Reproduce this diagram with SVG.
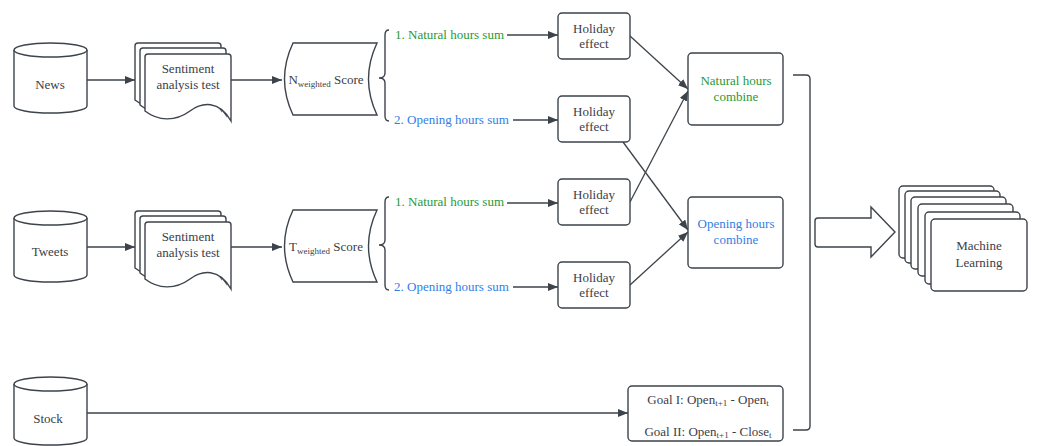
<svg xmlns="http://www.w3.org/2000/svg" width="1037" height="446" viewBox="0 0 1037 446">
<style>
.s{fill:#fff;stroke:#3d434b;stroke-width:1.4}
.n{fill:none;stroke:#3d434b;stroke-width:1.4}
.l{fill:none;stroke:#3d434b;stroke-width:1.3}
.t{font-family:"Liberation Serif","Times New Roman",serif;font-size:13px;fill:#3b4048;text-anchor:middle}
.g{fill:#1f9a35}
.b{fill:#2f80e6}
.st{text-anchor:start}
</style>
<defs>
<marker id="ah" viewBox="0 0 10 8" refX="10" refY="4" markerWidth="10" markerHeight="8" markerUnits="userSpaceOnUse" orient="auto">
<path d="M0,0 L10,4 L0,8 Z" fill="#3d434b"/>
</marker>
<path id="doc" d="M0,3 Q0,0 3,0 L83,0 Q86,0 86,3 L86,67 C74,46 57,48 45,57 C30,68 13,67 0,57 Z"/>
<path id="score" d="M293,0 L377,0 Q360,36 377,72 L293,72 Q276,36 293,0 Z"/>
</defs>

<g id="connectors">
<line class="l" x1="87" y1="80" x2="135" y2="80" marker-end="url(#ah)"/>
<line class="l" x1="231" y1="80" x2="282" y2="80" marker-end="url(#ah)"/>
<line class="l" x1="87" y1="247" x2="135" y2="247" marker-end="url(#ah)"/>
<line class="l" x1="231" y1="247" x2="282" y2="247" marker-end="url(#ah)"/>
<line class="l" x1="507" y1="35" x2="558" y2="35" marker-end="url(#ah)"/>
<line class="l" x1="513" y1="120" x2="558" y2="120" marker-end="url(#ah)"/>
<line class="l" x1="507" y1="203" x2="558" y2="203" marker-end="url(#ah)"/>
<line class="l" x1="513" y1="287" x2="558" y2="287" marker-end="url(#ah)"/>
<line class="l" x1="630" y1="36" x2="688" y2="89" marker-end="url(#ah)"/>
<line class="l" x1="630" y1="202" x2="688" y2="91" marker-end="url(#ah)"/>
<line class="l" x1="623" y1="142" x2="688" y2="230" marker-end="url(#ah)"/>
<line class="l" x1="630" y1="285" x2="688" y2="232" marker-end="url(#ah)"/>
<line class="l" x1="87" y1="413" x2="628" y2="413" marker-end="url(#ah)"/>
<path class="n" d="M793,75 L806,75 Q810,75 810,79 L810,426 Q810,430 806,430 L793,430"/>
</g>

<g id="news">
<path class="s" d="M14,50 L14,106 A36.5,7 0 0 0 87,106 L87,50"/>
<ellipse class="s" cx="50.5" cy="50" rx="36.5" ry="7"/>
<text class="t" x="50" y="89">News</text>
</g>

<g id="news-sentiment">
<use href="#doc" class="s" transform="translate(135,43)"/>
<use href="#doc" class="s" transform="translate(140,48)"/>
<use href="#doc" class="s" transform="translate(145,54)"/>
<text class="t" x="188" y="73">Sentiment</text>
<text class="t" x="188" y="89">analysis test</text>
</g>

<g id="news-score">
<use href="#score" class="s" transform="translate(0,43)"/>
<text class="t" x="326" y="84">N<tspan font-size="9" dy="3">weighted</tspan><tspan dy="-3"> Score</tspan></text>
</g>

<g id="news-brace">
<path class="n" d="M389,30 Q385,30 385,35 L385,73 Q385,78 379,78 Q385,78 385,83 L385,116 Q385,121 389,121"/>
<text class="t g st" x="395" y="39">1. Natural hours sum</text>
<text class="t b st" x="394" y="124">2. Opening hours sum</text>
</g>

<g id="tweets">
<path class="s" d="M14,218 L14,275 A36.5,7 0 0 0 87,275 L87,218"/>
<ellipse class="s" cx="50.5" cy="218" rx="36.5" ry="7"/>
<text class="t" x="50" y="256">Tweets</text>
</g>

<g id="tweets-sentiment">
<use href="#doc" class="s" transform="translate(135,211)"/>
<use href="#doc" class="s" transform="translate(140,216)"/>
<use href="#doc" class="s" transform="translate(145,222)"/>
<text class="t" x="188" y="241">Sentiment</text>
<text class="t" x="188" y="257">analysis test</text>
</g>

<g id="tweets-score">
<use href="#score" class="s" transform="translate(0,210)"/>
<text class="t" x="326" y="251">T<tspan font-size="9" dy="3">weighted</tspan><tspan dy="-3"> Score</tspan></text>
</g>

<g id="tweets-brace">
<path class="n" d="M389,197 Q385,197 385,202 L385,240 Q385,245 379,245 Q385,245 385,250 L385,285 Q385,290 389,290"/>
<text class="t g st" x="395" y="206">1. Natural hours sum</text>
<text class="t b st" x="394" y="291">2. Opening hours sum</text>
</g>

<g id="holiday1">
<rect class="s" x="558" y="13" width="72" height="46" rx="4"/>
<text class="t" x="594" y="33">Holiday</text>
<text class="t" x="594" y="48">effect</text>
</g>
<g id="holiday2">
<rect class="s" x="558" y="96" width="72" height="46" rx="4"/>
<text class="t" x="594" y="116">Holiday</text>
<text class="t" x="594" y="131">effect</text>
</g>
<g id="holiday3">
<rect class="s" x="558" y="179" width="72" height="46" rx="4"/>
<text class="t" x="594" y="199">Holiday</text>
<text class="t" x="594" y="214">effect</text>
</g>
<g id="holiday4">
<rect class="s" x="558" y="262" width="72" height="46" rx="4"/>
<text class="t" x="594" y="282">Holiday</text>
<text class="t" x="594" y="297">effect</text>
</g>

<g id="natural-combine">
<rect class="s" x="688" y="53" width="95" height="72" rx="4"/>
<text class="t g" x="736" y="85">Natural hours</text>
<text class="t g" x="736" y="101">combine</text>
</g>

<g id="opening-combine">
<rect class="s" x="688" y="197" width="95" height="71" rx="4"/>
<text class="t b" x="736" y="228">Opening hours</text>
<text class="t b" x="736" y="244">combine</text>
</g>

<g id="stock">
<path class="s" d="M14,384 L14,438 A36.5,7 0 0 0 87,438 L87,384"/>
<ellipse class="s" cx="50.5" cy="384" rx="36.5" ry="7"/>
<text class="t" x="48" y="423">Stock</text>
</g>

<g id="goal">
<rect class="s" x="628" y="386" width="155" height="55" rx="4"/>
<text class="t" x="708" y="404">Goal I: Open<tspan font-size="9" dy="2">t+1</tspan><tspan dy="-2"> - Open</tspan><tspan font-size="9" dy="2">t</tspan></text>
<text class="t" x="708" y="436">Goal II: Open<tspan font-size="9" dy="2">t+1</tspan><tspan dy="-2"> - Close</tspan><tspan font-size="9" dy="2">t</tspan></text>
</g>

<g id="big-arrow">
<path class="s" d="M815,221 Q815,218 818,218 L871,218 L871,207 L895,232 L871,257 L871,247 L818,247 Q815,247 815,244 Z"/>
</g>

<g id="machine-learning">
<rect class="s" x="899" y="186" width="95" height="72" rx="4"/>
<rect class="s" x="905" y="191" width="95" height="72" rx="4"/>
<rect class="s" x="911" y="197" width="95" height="72" rx="4"/>
<rect class="s" x="918" y="204" width="95" height="72" rx="4"/>
<rect class="s" x="925" y="212" width="95" height="72" rx="4"/>
<rect class="s" x="931" y="219" width="96" height="72" rx="4"/>
<text class="t" x="979" y="250" fill="#4a4f56">Machine</text>
<text class="t" x="979" y="267" fill="#4a4f56">Learning</text>
</g>
</svg>
